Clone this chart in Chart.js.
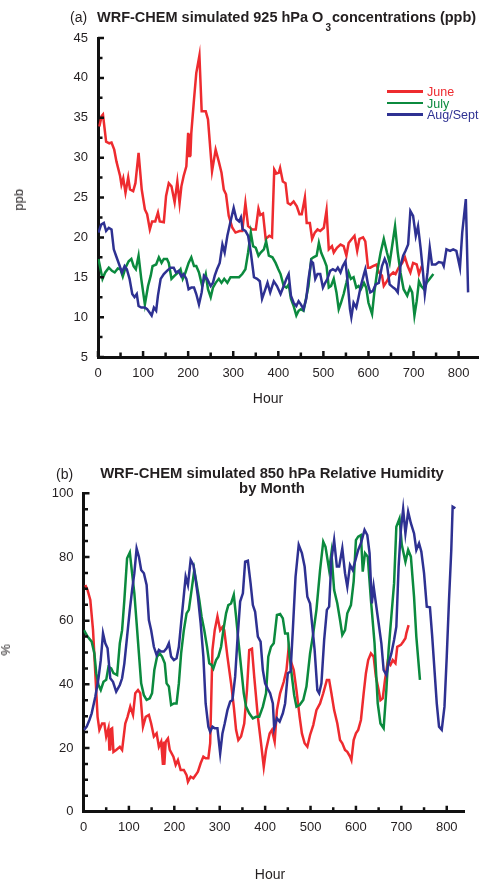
<!DOCTYPE html>
<html><head><meta charset="utf-8">
<script src="https://cdn.jsdelivr.net/npm/chart.js@4.4.0/dist/chart.umd.min.js"></script>
<style>
html,body{margin:0;padding:0;background:#fff;}
#wrap{position:relative;width:484px;height:881px;overflow:hidden;font-family:'Liberation Sans',Arial,Helvetica,sans-serif;color:#231f20;}
canvas{position:absolute;left:0;}
.c{position:absolute;white-space:nowrap;transform:translate(-50%,-50%);}
.l{position:absolute;white-space:nowrap;}
.v{position:absolute;white-space:nowrap;writing-mode:vertical-rl;transform:rotate(180deg);}
.leg{position:absolute;left:387px;font-size:12.5px;line-height:12px;height:12px;white-space:nowrap;}
.leg i{display:inline-block;width:36px;height:2.5px;vertical-align:middle;margin-right:4px;position:relative;top:-1px;}
</style></head>
<body><div id="wrap">
<canvas id="ca" width="484" height="440" style="top:0"></canvas>
<canvas id="cb" width="484" height="441" style="top:440px"></canvas>

<div class="l" style="left:70px;top:8px;font-size:14px;line-height:18px;">(a)</div>
<div class="l" style="left:97px;top:8px;font-size:14.5px;line-height:18px;font-weight:bold;">WRF-CHEM simulated 925 hPa O<span style="font-size:10px;position:relative;top:9px;margin:0 1px 0 2px;">3</span>concentrations (ppb)</div>
<div class="v" style="left:11px;top:189px;font-size:13px;">ppb</div>
<div class="c" style="left:268px;top:398px;font-size:14px;">Hour</div>
<div class="leg" style="top:86px;color:#ee2b2f;"><i style="background:#ee2b2f"></i>June</div>
<div class="leg" style="top:97.5px;color:#0b8a3e;"><i style="background:#0b8a3e"></i>July</div>
<div class="leg" style="top:109px;color:#2e3192;"><i style="background:#2e3192"></i>Aug/Sept</div>

<div class="l" style="left:56px;top:465px;font-size:14px;line-height:18px;">(b)</div>
<div class="c" style="left:272px;top:480px;font-size:14.8px;line-height:14.5px;font-weight:bold;text-align:center;">WRF-CHEM simulated 850 hPa Relative Humidity<br>by Month</div>
<div class="v" style="left:-2px;top:644px;font-size:13px;">%</div>
<div class="c" style="left:270px;top:874px;font-size:14px;">Hour</div>
</div>
<script>
// ---------- (a) 925 hPa O3 (ppb) ----------
const o3JuneHour = [3,8,11,18,25,30,36,41,49,52,56,61,67,71,78,83,90,97,104,109,115,120,127,133,137,146,151,157,163,170,176,181,185,190,196,200,202,204,205,207,213,218,225,230,239,244,253,261,268,274,279,284,290,298,305,314,320,327,333,342,350,356,360,366,372,380,386,391,396,401,404,410,416,421,427,434,441,447,452,459,463,470,475,481,487,493,501,507,512,519,523,530,538,545,551,556,563,569,575,580,588,593,599,604,610,618,623,630,634,641,647,655,660,667,675,681,687,693,699,707,712,717,720];
const o3June = [33.9,35.2,35.4,32.0,31.8,31.9,31.0,29.5,27.7,26.6,27.4,25.6,27.5,26.0,25.8,26.8,30.6,26.0,23.5,22.9,21.0,22.0,22.0,23.1,22.0,21.9,25.2,26.8,26.4,24.4,27.0,24.3,26.4,27.7,28.9,33.1,30.2,33.0,30.2,33.1,37.3,40.6,42.8,35.8,35.8,34.8,28.3,31.0,29.5,28.1,26.0,25.4,22.7,21.2,20.6,20.8,20.8,24.3,21.4,21.0,21.0,23.6,22.8,23.0,19.8,20.2,20.0,28.5,28.0,28.1,28.7,27.0,26.8,24.3,24.1,24.5,23.9,22.9,22.9,25.0,21.8,21.8,19.8,20.6,21.0,20.8,21.2,23.4,18.5,18.9,18.1,18.7,19.1,18.9,17.7,19.3,19.8,20.2,18.3,19.8,20.0,19.5,16.2,16.2,16.4,16.6,15.6,15.2,13.9,14.5,15.2,15.6,15.4,16.2,16.8,17.5,16.4,15.6,16.8,16.6,15.4,16.2,16.0];
const o3JulyHour = [1,10,16,24,31,37,44,50,55,61,68,74,79,84,90,96,104,111,117,121,129,135,141,146,153,157,163,170,178,183,188,194,201,207,213,218,224,231,239,244,250,255,261,268,274,280,287,294,304,313,320,327,333,339,344,350,356,361,368,373,379,387,394,400,405,412,418,423,428,434,440,445,450,456,462,467,473,478,485,490,495,501,507,512,517,523,529,534,539,545,551,556,561,567,573,578,583,590,595,600,608,613,619,627,634,641,647,653,659,665,671,678,686,692,697,702,707,712,717,723,729,736,744];
const o3July = [17.3,14.8,15.6,16.2,15.8,15.6,16.1,16.0,15.1,16.2,17.0,17.3,16.4,16.0,17.7,14.8,11.6,13.9,15.2,16.4,16.6,17.5,16.8,17.3,17.3,16.8,14.8,15.2,15.6,16.0,14.8,15.6,16.8,17.5,16.4,16.4,15.6,13.9,15.4,13.5,12.5,13.7,14.3,14.8,14.3,14.8,14.3,15.0,15.0,15.0,15.4,16.0,18.1,20.6,18.9,18.7,17.7,18.1,18.5,19.5,17.7,17.5,16.8,16.0,15.4,13.9,13.7,14.1,12.3,11.4,10.2,10.8,11.0,10.8,12.5,13.9,17.3,17.5,17.7,19.3,18.1,17.3,16.4,13.7,13.9,14.8,13.1,11.0,11.8,12.9,14.3,15.6,14.8,15.0,13.7,13.9,13.5,14.3,13.7,11.8,10.4,13.1,15.6,18.1,19.8,18.1,16.8,19.1,21.4,18.1,15.6,13.5,12.7,13.7,13.1,10.2,12.0,14.5,13.9,13.5,14.3,14.8,15.4];
const o3AugHour = [1,7,13,18,24,30,35,40,47,53,59,64,70,76,81,86,90,96,104,109,114,119,124,129,133,139,146,153,161,168,173,179,185,190,196,201,207,213,218,224,230,235,242,250,255,259,264,270,276,281,287,294,301,307,313,317,321,327,333,339,346,353,359,364,370,376,382,390,397,405,412,418,423,428,434,440,445,450,456,462,467,473,477,482,487,493,499,504,509,515,521,527,532,538,543,549,554,559,562,567,573,578,583,590,593,599,604,610,616,623,630,636,641,647,655,660,665,671,677,682,688,693,699,705,710,716,721,725,731,736,741,749,756,764,767,773,781,788,795,803,808,816,821];
const o3Aug = [20.6,21.6,21.8,20.8,21.2,21.0,18.5,17.7,16.6,15.6,16.4,16.0,14.8,12.9,12.5,12.9,11.4,11.2,11.2,11.0,10.6,10.2,11.2,10.8,12.7,14.8,15.4,15.8,16.2,16.2,15.6,15.8,15.1,15.4,14.8,13.5,13.7,13.7,12.9,11.6,13.1,15.2,14.8,13.9,14.3,15.2,16.0,16.8,19.1,18.1,20.2,22.0,23.7,22.3,22.0,22.5,21.0,20.8,20.2,18.1,15.0,14.8,14.5,12.3,13.3,14.3,13.1,14.5,13.9,12.9,13.9,14.8,15.4,12.7,11.8,11.4,12.0,11.6,11.0,12.3,14.8,17.0,16.8,14.8,15.4,15.4,13.7,14.3,14.8,15.8,16.0,15.8,16.2,15.6,16.4,17.0,14.3,11.0,10.0,11.8,11.2,12.5,13.9,15.4,16.0,14.1,13.1,13.3,14.1,14.3,16.4,17.3,16.6,14.1,13.7,13.5,13.1,16.4,17.7,18.3,19.1,23.3,22.7,20.2,21.4,18.5,15.6,12.9,15.6,18.7,16.6,16.6,16.9,16.8,16.4,18.5,18.3,18.5,18.3,16.2,20.6,24.8,13.1];

// ---------- (b) 850 hPa Relative Humidity (%) ----------
const rhJuneHour = [4,9,15,21,26,31,35,41,46,50,55,57,58,59,61,63,66,72,80,85,92,97,103,109,114,120,125,131,137,144,149,155,161,166,171,175,177,178,181,186,190,198,203,208,214,221,227,230,236,242,247,252,258,264,269,275,279,284,289,295,301,306,310,317,325,331,336,341,347,354,360,365,371,376,384,391,397,402,410,415,421,426,433,441,447,452,457,463,469,476,481,487,493,499,506,513,521,528,536,541,546,552,559,565,570,576,581,587,590,595,600,605,611,617,622,627,633,639,644,650,654,659,664,670,676,681,687,691,699,704,709,711,716];
const rhJune = [71.2,69.6,66.5,57,43.5,29.8,25.7,27.7,27.7,23.6,26.2,19.5,26,19.4,26,26.2,18.8,19.4,20.4,19.4,27.7,29.8,33,30.4,37.2,38.2,37.2,26.7,29.8,30.4,27.7,23.6,24.6,20.4,22,14.7,22,14.7,22,23,19.4,17.3,14.7,16.2,13.1,13.1,11.5,9.4,11,10.5,11.5,12.6,15.2,17.3,16.8,16.8,21.5,50.8,57,61.3,57,58,57,48.7,40.3,33,25.7,22.5,23.6,27.7,38.2,50.8,51.2,42.4,29.8,21.5,14.1,19.4,24.6,25.7,22,31.9,37.2,40.8,44.5,51.8,47.1,44.5,38.2,29.8,24.6,21.5,20.4,24.1,27.2,31.9,34,37.2,41.4,41.4,37.2,31.9,27.7,22.5,21.5,19.4,18.8,17.3,16.2,22.5,24.6,25.7,28.8,37.2,43.5,47.6,49.7,48.7,42.4,38.2,35,35.6,41.4,47.1,46.1,47.6,46.6,51.8,52.4,53.4,54.5,56,58.6];
const rhJulyHour = [1,9,18,24,28,33,38,44,50,55,61,66,74,80,85,90,96,102,107,112,117,122,127,133,139,146,151,156,162,168,173,179,183,188,193,199,205,210,215,221,227,232,238,244,249,255,260,266,272,277,282,286,292,297,303,308,314,319,325,331,336,341,347,353,358,365,373,380,387,395,402,407,413,419,426,433,439,444,450,454,459,464,469,476,484,491,499,506,513,521,528,533,541,546,552,559,565,570,576,581,589,595,600,605,611,615,620,626,633,641,648,654,661,667,672,678,684,689,696,701,709,715,721,728,733,741];
const rhJuly = [57,55,53.4,49.7,43.5,39.8,38.2,40.8,41.4,45.5,45,43.5,42.9,52.9,57,66.5,79.6,81.4,74.9,68.6,59.2,49.7,40.3,36.6,35.1,35.6,37.2,44.5,48.7,49.7,48.7,46.6,40.3,39.3,33.5,34,34,40.3,49.7,57,62.3,63.4,69.6,75.9,71.7,66.5,61.3,57,51.8,46.6,46.1,45,47.6,48.7,51.8,57,62.3,64.9,65.4,68.1,61.3,53.9,45.5,37.2,33,30.9,29.3,29.8,29.8,33,37.2,48.7,51.8,52.9,61.8,62.1,60.7,56,56,48.7,42.4,36.6,33,33.5,35.1,39.3,49.7,56,63.4,75.9,84.8,83.2,75.9,81.2,69.6,65.4,60.2,55.5,57,62.3,64.9,72.3,85.3,86.4,86.9,75.4,81.2,80.1,66.5,52.9,34,27.7,26.2,38.2,50.8,61.3,71.7,89.5,92.1,83.8,78.5,82.2,80.1,67.5,55,41.4];
const rhAugHour = [1,7,13,18,26,33,38,43,48,53,59,65,72,80,85,90,96,102,107,112,117,122,127,133,139,144,149,155,161,166,171,177,183,188,193,199,205,210,215,220,225,230,236,242,247,252,258,264,269,275,279,284,289,295,301,306,311,317,323,328,334,339,345,351,356,362,368,373,378,384,390,395,400,406,411,417,420,426,432,439,444,450,456,461,467,474,481,487,493,499,504,509,515,519,524,530,536,541,546,552,558,563,570,576,581,587,593,600,605,611,619,625,630,635,639,644,650,656,661,667,672,678,684,689,694,699,704,709,715,721,728,733,739,744,750,756,763,768,774,778,783,789,795,800,805,810,813,819];
const rhAug = [25.7,26.7,28.8,30.9,36.1,41.9,47.6,56,52.9,51.3,41.9,40.8,37.7,39.8,41.9,46.6,55,63.4,69.6,74.9,82.7,80.1,75.9,74.9,71.2,60.2,57,51.8,49.2,50.8,50.3,50.3,51.3,52.9,48.7,47.6,48.2,51.8,59.2,66.5,73.8,71.2,79.1,77.5,72.8,67.5,59.2,48.7,34,26.7,25.1,26.7,26.2,26.2,18.3,24.6,27.7,31.9,34.6,35.1,42.4,53.9,66,68.6,78.5,78.8,71.7,64.9,62.8,55,53.4,44.5,40.3,38.5,37.2,34,26.2,29.3,28.3,30.9,34,43.5,44,57,73.8,83.8,81.2,77,67.5,65.4,58.1,50.8,38.2,37.2,40.3,53.9,63.4,64.4,79.1,85.3,77,77,82.7,74.9,70.7,77.5,75.9,79.6,82.2,84.3,88.5,86.9,81.2,65.4,70.7,65.4,59.2,52.9,44.5,42.9,46.6,49.7,53.9,58.1,77,88.5,95,87.4,94.2,90.6,87.4,82.2,84.3,81.7,74.9,64.4,64.2,55,42.4,34,26.7,25.7,33,48.7,66.5,82.2,95.8,95.3];

const seriesNames = ['June','July','Aug/Sept'];
const seriesColors = ['#ee2b2f','#0b8a3e','#2e3192'];

function pts(h, v){ const n=Math.min(h.length,v.length), out=[]; for(let i=0;i<n;i++) out.push({x:h[i],y:v[i]}); return out; }
function ds(i, h, v){ return {label:seriesNames[i], data:pts(h,v), borderColor:seriesColors[i], backgroundColor:seriesColors[i], borderWidth:2.5, pointRadius:0, tension:0, fill:false, order:3-i}; }

const FONT = {family:"'Liberation Sans', Arial, Helvetica, sans-serif", size:13};
const TXT = '#231f20';

const innerTicks = {
  id:'innerTicks',
  afterDatasetsDraw(chart, args, o){
    const {ctx, chartArea:a, scales:{x,y}} = chart;
    ctx.save(); ctx.strokeStyle='#111'; ctx.lineWidth=2.5; ctx.beginPath();
    for(let v=0; v<=x.max+1e-9; v+=o.xMinor){
      const p=x.getPixelForValue(v); const len=(Math.abs(v%o.xMajor)<1e-6)?6:4.5;
      ctx.moveTo(p,a.bottom); ctx.lineTo(p,a.bottom-len);
    }
    for(let v=y.min; v<=y.max+1e-9; v+=o.yMinor){
      const p=y.getPixelForValue(v); const r=Math.abs(((v-y.min)%o.yMajor));
      const len=(r<1e-6||Math.abs(r-o.yMajor)<1e-6)?6:4.5;
      ctx.moveTo(a.left,p); ctx.lineTo(a.left+len,p);
    }
    ctx.stroke(); ctx.restore();
  }
};

function makeChart(id, datasets, cfg){
  return new Chart(document.getElementById(id), {
    type:'line',
    data:{datasets},
    plugins:[innerTicks],
    options:{
      responsive:false, animation:false, devicePixelRatio:1,
      layout:{padding:cfg.pad},
      plugins:{legend:{display:false}, tooltip:{enabled:false}, innerTicks:cfg.ticks},
      scales:{
        x:{type:'linear', min:0, max:cfg.xMax,
           ticks:{stepSize:100, includeBounds:false, padding:cfg.xPad, font:FONT, color:TXT, maxRotation:0, autoSkip:false},
           grid:{display:false, drawTicks:false}, border:{display:true, color:'#111', width:3},
           afterFit:(s)=>{s.height=cfg.xH;}},
        y:{type:'linear', min:cfg.yMin, max:cfg.yMax,
           ticks:{stepSize:cfg.yStep, padding:10, font:FONT, color:TXT, autoSkip:false},
           grid:{display:false, drawTicks:false}, border:{display:true, color:'#111', width:3},
           afterFit:(s)=>{s.width=cfg.yW;}}
      }
    }
  });
}

makeChart('ca', [ds(0,o3JuneHour,o3June), ds(1,o3JulyHour,o3July), ds(2,o3AugHour,o3Aug)],
  {pad:{left:0,right:6,top:38,bottom:0}, xMax:843, xH:83, xPad:9, yW:98, yMin:5, yMax:45, yStep:5,
   ticks:{xMinor:50,xMajor:100,yMinor:2.5,yMajor:5}});
makeChart('cb', [ds(0,rhJuneHour,rhJune), ds(1,rhJulyHour,rhJuly), ds(2,rhAugHour,rhAug)],
  {pad:{left:0,right:20,top:53.3,bottom:0}, xMax:838, xH:69.3, xPad:8, yW:83.5, yMin:0, yMax:100, yStep:20,
   ticks:{xMinor:50,xMajor:100,yMinor:5,yMajor:20}});
</script>
</body></html>
